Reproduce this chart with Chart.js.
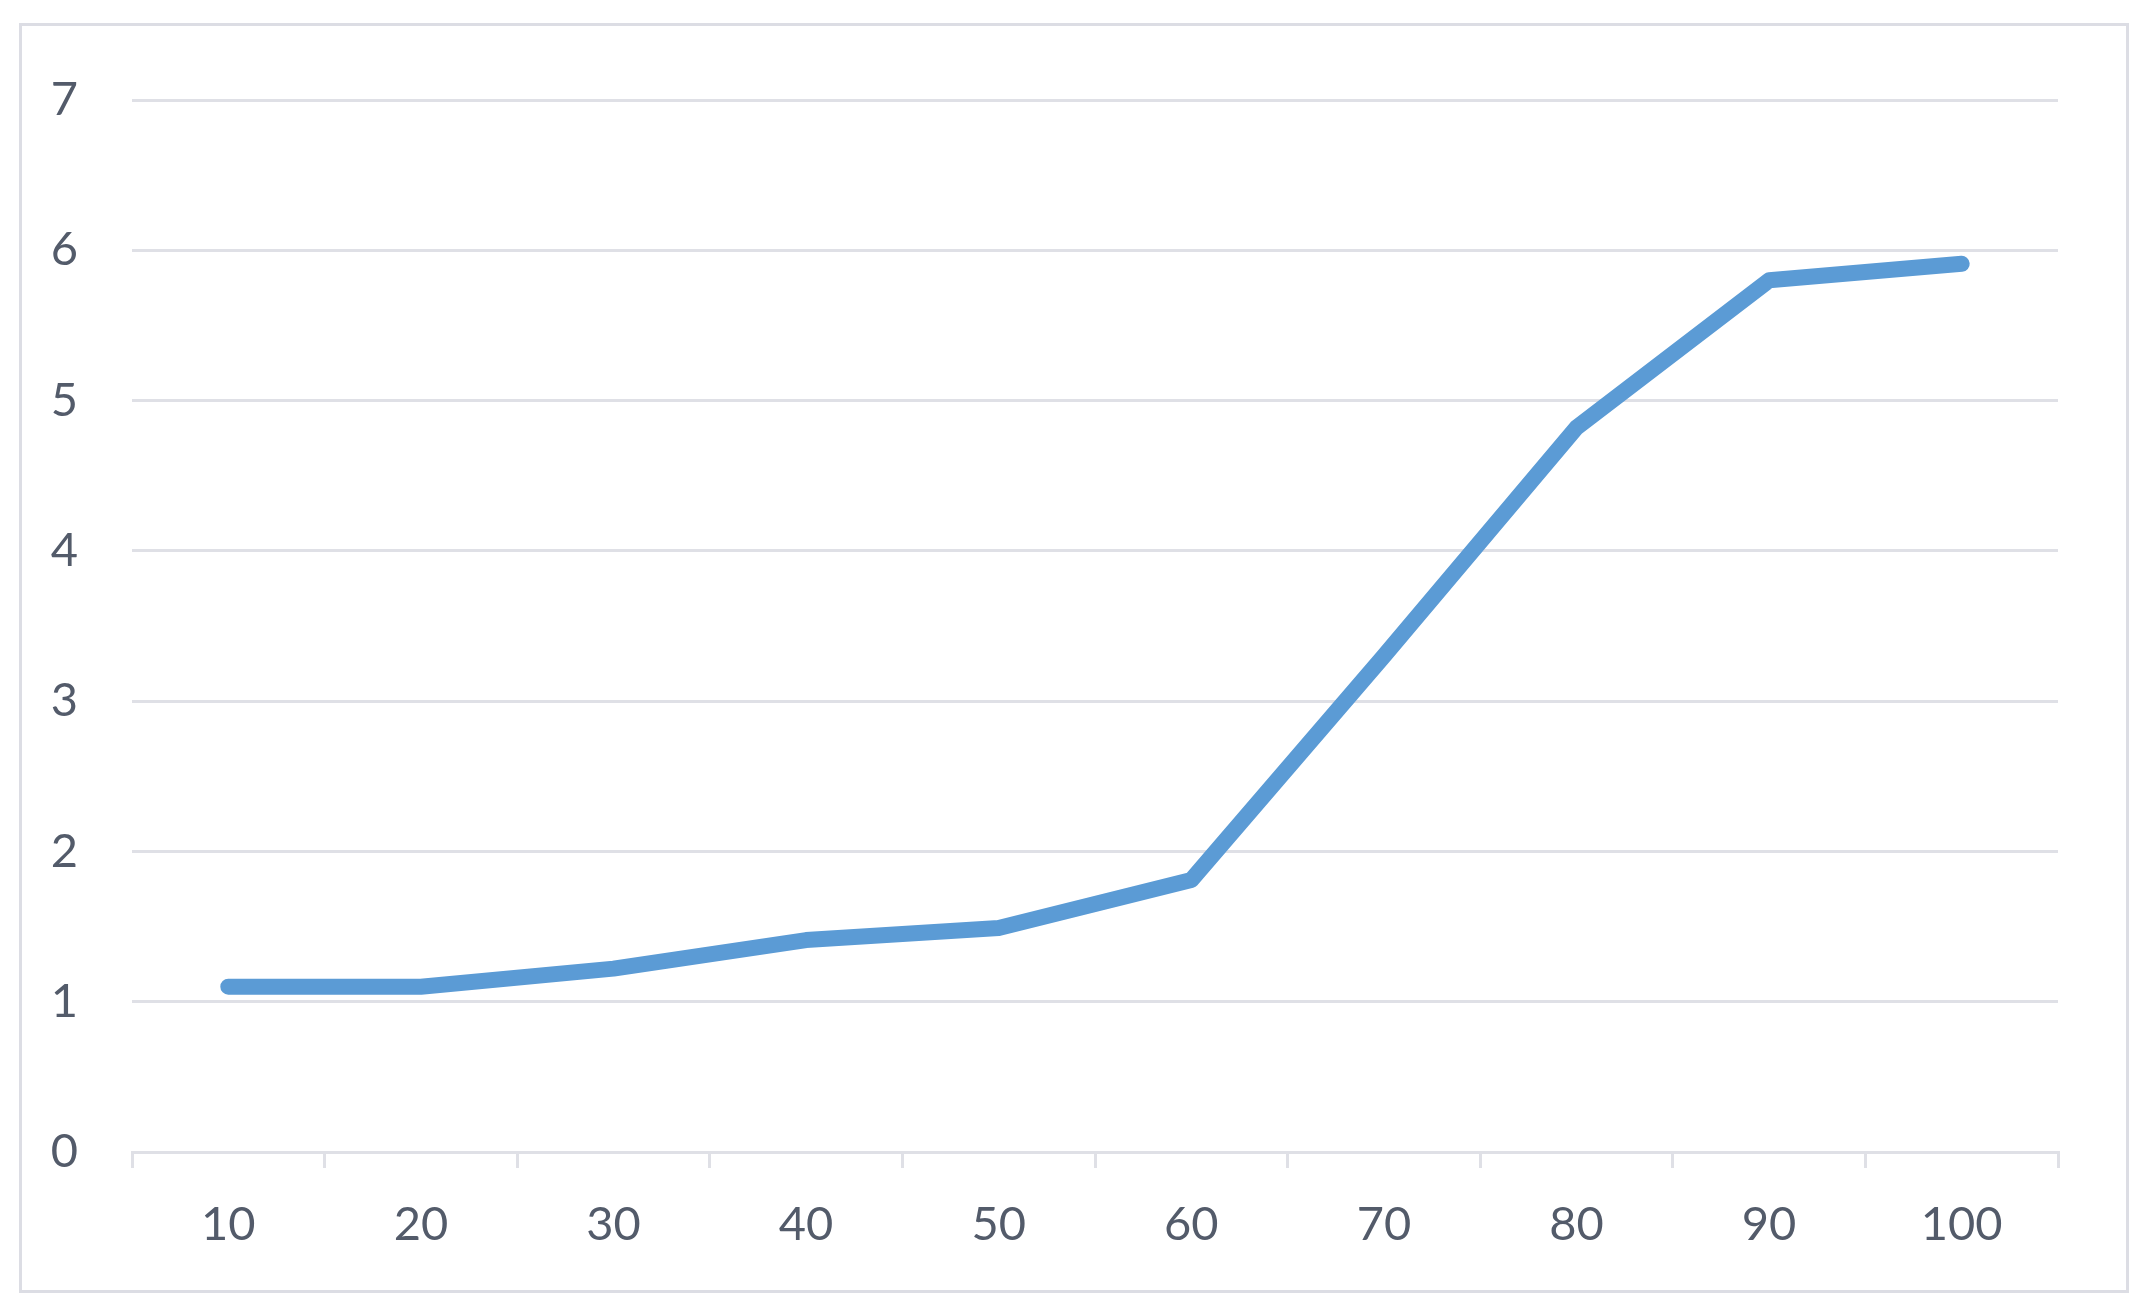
<!DOCTYPE html>
<html>
<head>
<meta charset="utf-8">
<script src="https://cdn.jsdelivr.net/npm/chart.js@4"></script>
<style>
  html, body { margin: 0; padding: 0; background: #fff; }
  #wrap { position: absolute; left: 0; top: 0; width: 2145px; height: 1312px; }
  #frame {
    position: absolute; left: 19px; top: 23px; width: 2110px; height: 1270px;
    border: 3px solid #dcdde4; box-sizing: border-box; pointer-events: none;
  }
</style>
</head>
<body>
<div id="wrap"><canvas id="chart" width="2145" height="1312"></canvas></div>
<div id="frame"></div>
<script>
// data
var categories = ['10', '20', '30', '40', '50', '60', '70', '80', '90', '100'];
var values = [1.1, 1.1, 1.22, 1.41, 1.49, 1.81, 3.3, 4.82, 5.8, 5.91];
var yTicks = [0, 1, 2, 3, 4, 5, 6, 7];

var gridColor = '#dfe0e6';
var textColor = '#535b6a';

var chart = new Chart(document.getElementById('chart'), {
    type: 'line',
    data: {
        labels: categories,
        datasets: [{
            data: values,
            borderColor: '#5b9bd5',
            borderWidth: 16,
            borderCapStyle: 'round',
            borderJoinStyle: 'round',
            pointRadius: 0,
            tension: 0,
            fill: false
        }]
    },
    options: {
        responsive: false,
        animation: false,
        layout: { padding: { left: 0, right: 87, top: 100, bottom: 0 } },
        plugins: { legend: { display: false }, tooltip: { enabled: false } },
        scales: {
            x: {
                offset: true,
                grid: {
                    offset: true,
                    drawOnChartArea: false,
                    drawTicks: true,
                    tickLength: 16,
                    color: gridColor,
                    lineWidth: 3
                },
                border: { display: true, color: gridColor, width: 3 },
                ticks: {
                    color: textColor,
                    padding: 29,
                    font: { family: 'Lato', size: 47 },
                    maxRotation: 0
                },
                afterFit: function(scale) { scale.height = 160; }
            },
            y: {
                min: 0,
                max: 7,
                afterBuildTicks: function(scale) {
                    scale.ticks = yTicks.map(function(v) { return { value: v }; });
                },
                grid: { color: gridColor, lineWidth: 3, drawTicks: false },
                border: { display: false },
                ticks: {
                    color: textColor,
                    padding: 54,
                    font: { family: 'Lato', size: 47 }
                },
                afterFit: function(scale) { scale.width = 132; }
            }
        }
    }
});
</script>
</body>
</html>
